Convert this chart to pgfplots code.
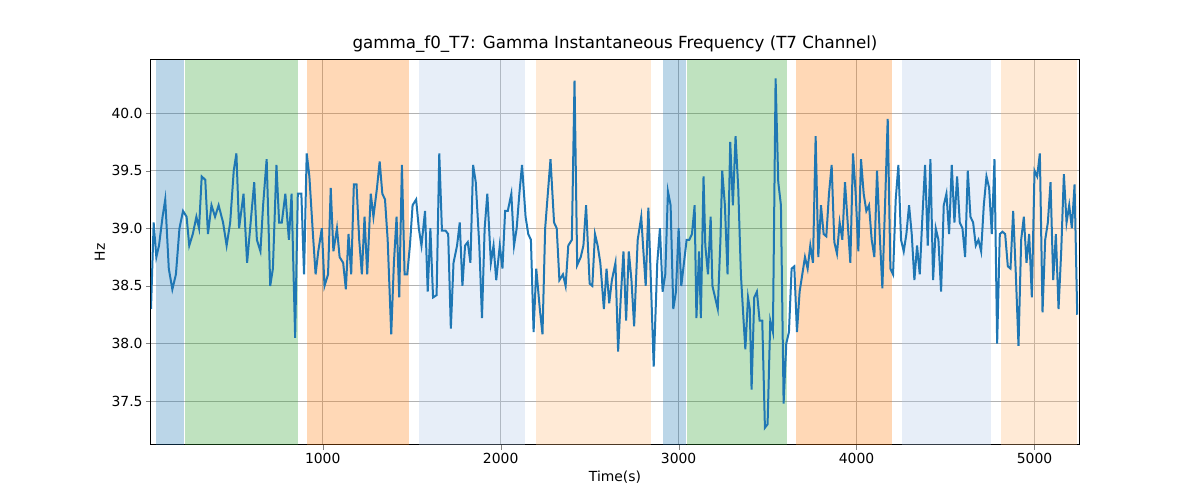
\documentclass[border=0pt]{standalone}
\usepackage{pgfplots}
\pgfplotsset{compat=1.18}
\usepackage{fontspec}
\setmainfont{DejaVu Sans}
\definecolor{tb}{HTML}{1F77B4}
\definecolor{tg}{HTML}{2CA02C}
\definecolor{to}{HTML}{FF7F0E}
\definecolor{lb}{HTML}{AEC7E8}
\definecolor{lo}{HTML}{FFBB78}
\begin{document}
\begin{tikzpicture}
\begin{axis}[width=928pt,height=385pt,scale only axis,
 at={(0,0)},
 xmin=35,xmax=5250,ymin=37.12,ymax=40.46,
 xtick={1000,2000,3000,4000,5000},
 ytick={37.5,38,38.5,39,39.5,40},
 xticklabel style={/pgf/number format/set thousands separator={}},
 yticklabel style={/pgf/number format/fixed,/pgf/number format/fixed zerofill,/pgf/number format/precision=1},
 /pgf/number format/assume math mode=true,
 grid=major,grid style={gray!60,line width=1pt},
 title={gamma\_f0\_T7: Gamma Instantaneous Frequency (T7 Channel)},
 xlabel={Time(s)},ylabel={Hz},
 tick label style={font=\fontsize{13.9}{16}\selectfont},label style={font=\fontsize{13.9}{16}\selectfont},title style={font=\fontsize{16.7}{19}\selectfont,yshift=-2pt},
 tick align=outside,tick pos=left,major tick length=4.9pt,axis line style={line width=1pt}]
\def\band#1#2#3#4{\addplot[draw=none,fill=#3,fill opacity=#4,forget plot] coordinates {(#1,37.12)(#1,40.46)(#2,40.46)(#2,37.12)} -- cycle;}
\band{63}{220}{tb}{0.3}
\band{226}{860}{tg}{0.3}
\band{910}{1483}{to}{0.3}
\band{1539}{2139}{lb}{0.3}
\band{2200}{2845}{lo}{0.3}
\band{2913}{3042}{tb}{0.3}
\band{3048}{3609}{tg}{0.3}
\band{3659}{4197}{to}{0.3}
\band{4253}{4758}{lb}{0.3}
\band{4809}{5241}{lo}{0.3}
\addplot[tb,line width=2pt,mark=none] coordinates {
(35,38.3)(50,39.05)(65,38.75)(80,38.85)(100,39.1)(115,39.25)(135,38.65)(155,38.47)(175,38.6)(195,39.0)(215,39.15)(235,39.1)(250,38.85)(270,38.95)(290,39.1)(305,39.0)(320,39.45)(340,39.42)(355,38.95)(375,39.2)(395,39.1)(415,39.2)(440,39.05)(460,38.85)(480,39.05)(500,39.5)(515,39.65)(530,39.0)(555,39.3)(575,38.7)(595,39.05)(615,39.4)(630,38.9)(650,38.8)(665,39.2)(685,39.6)(705,38.5)(720,38.65)(740,39.55)(755,39.05)(770,39.05)(790,39.3)(810,38.9)(825,39.3)(845,38.05)(860,39.3)(880,39.3)(895,38.6)(910,39.65)(925,39.45)(945,38.95)(960,38.6)(975,38.8)(995,39.0)(1010,38.5)(1030,38.6)(1045,39.35)(1060,38.8)(1080,39.0)(1095,38.75)(1115,38.7)(1130,38.47)(1145,38.95)(1160,38.6)(1175,39.38)(1190,39.38)(1205,38.9)(1220,38.6)(1235,39.1)(1250,38.6)(1270,39.3)(1285,39.1)(1305,39.35)(1320,39.58)(1335,39.3)(1350,39.25)(1365,38.9)(1385,38.08)(1400,38.7)(1415,39.1)(1430,38.4)(1445,39.55)(1460,38.6)(1475,38.6)(1490,38.85)(1505,39.2)(1525,39.25)(1540,39.0)(1555,38.85)(1575,39.15)(1590,38.45)(1605,39.0)(1620,38.4)(1640,38.42)(1655,39.65)(1670,38.98)(1690,38.98)(1705,38.95)(1720,38.13)(1735,38.7)(1755,38.85)(1770,39.05)(1785,38.5)(1800,38.85)(1815,38.88)(1830,38.7)(1845,39.55)(1860,39.4)(1880,38.85)(1895,38.22)(1910,39.0)(1925,39.3)(1945,38.7)(1960,38.85)(1975,38.55)(1995,38.85)(2010,38.65)(2025,39.15)(2040,39.15)(2060,39.3)(2075,38.85)(2090,39.0)(2105,39.3)(2120,39.55)(2140,39.1)(2155,38.95)(2170,38.9)(2185,38.1)(2200,38.65)(2220,38.3)(2235,38.08)(2250,39.0)(2265,39.3)(2280,39.6)(2300,39.05)(2315,39.0)(2330,38.55)(2350,38.6)(2365,38.5)(2380,38.85)(2400,38.9)(2415,40.28)(2430,38.68)(2450,38.75)(2465,38.85)(2480,39.2)(2500,38.52)(2515,38.5)(2530,38.95)(2545,38.85)(2560,38.7)(2580,38.3)(2595,38.65)(2610,38.35)(2625,38.55)(2645,38.7)(2660,37.93)(2675,38.4)(2690,38.8)(2705,38.2)(2720,38.8)(2735,38.55)(2750,38.15)(2770,38.9)(2790,39.1)(2800,38.85)(2815,38.5)(2830,39.18)(2845,38.5)(2860,37.8)(2880,38.7)(2895,39.0)(2910,38.45)(2925,38.6)(2940,39.32)(2955,39.2)(2970,38.3)(2985,38.45)(3000,39.0)(3015,38.5)(3030,38.7)(3045,38.9)(3060,38.9)(3075,38.95)(3090,39.2)(3100,38.22)(3115,38.8)(3125,38.22)(3140,39.45)(3150,38.85)(3165,38.6)(3180,39.1)(3190,38.5)(3205,38.4)(3220,38.3)(3235,38.9)(3245,39.5)(3260,39.2)(3275,38.6)(3290,39.75)(3305,39.2)(3320,39.8)(3335,39.35)(3350,38.6)(3365,38.2)(3375,37.95)(3390,38.4)(3400,38.3)(3410,37.6)(3425,38.4)(3440,38.45)(3455,38.2)(3470,38.2)(3485,37.27)(3500,37.3)(3515,38.2)(3530,38.1)(3545,40.3)(3560,39.4)(3575,39.2)(3590,37.48)(3605,38.0)(3620,38.1)(3635,38.65)(3650,38.67)(3665,38.1)(3680,38.45)(3695,38.6)(3710,38.75)(3725,38.65)(3740,38.85)(3755,38.7)(3770,39.8)(3785,38.75)(3800,39.2)(3815,38.95)(3830,38.93)(3845,39.3)(3860,39.55)(3875,38.88)(3890,38.78)(3905,39.05)(3920,38.9)(3935,39.4)(3950,39.05)(3965,38.7)(3980,39.65)(3995,39.3)(4010,38.8)(4025,39.6)(4040,39.3)(4055,39.15)(4070,39.2)(4085,38.9)(4100,38.75)(4115,39.5)(4130,38.95)(4145,38.48)(4160,39.2)(4175,39.95)(4190,38.65)(4205,38.6)(4220,39.25)(4235,39.55)(4250,38.9)(4265,38.8)(4280,38.95)(4295,39.2)(4310,38.95)(4325,38.55)(4340,38.85)(4355,38.6)(4370,39.1)(4385,39.55)(4400,38.85)(4415,39.6)(4430,38.55)(4445,39.0)(4460,38.9)(4475,38.45)(4490,39.2)(4505,39.3)(4520,38.95)(4535,39.55)(4550,39.05)(4565,39.45)(4580,39.05)(4595,39.0)(4610,38.75)(4625,39.5)(4640,39.1)(4655,39.05)(4670,38.85)(4685,38.9)(4700,38.8)(4715,39.2)(4730,39.45)(4745,39.35)(4760,38.95)(4775,39.6)(4790,38.0)(4805,38.95)(4820,38.97)(4835,38.95)(4850,38.67)(4865,38.65)(4880,39.15)(4895,38.6)(4910,37.98)(4925,38.9)(4940,39.1)(4955,38.7)(4970,38.95)(4985,38.4)(5000,39.5)(5015,39.45)(5030,39.65)(5045,38.27)(5060,38.9)(5075,39.05)(5090,39.4)(5105,38.55)(5120,38.95)(5135,38.3)(5150,38.8)(5165,39.47)(5180,39.05)(5195,39.2)(5210,39.0)(5225,39.38)(5240,38.25)};
\end{axis}
\useasboundingbox (-151pt,-55pt) rectangle (1049pt,445pt);
\end{tikzpicture}
\end{document}
